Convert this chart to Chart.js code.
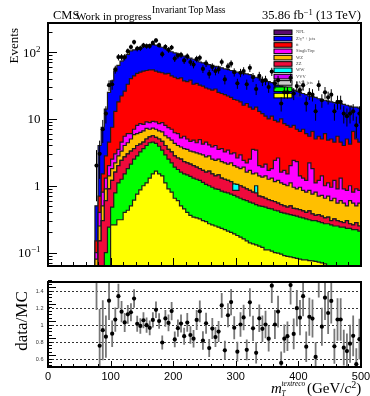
<!DOCTYPE html>
<html>
<head>
<meta charset="utf-8">
<title>Invariant Top Mass</title>
<script src="https://cdn.jsdelivr.net/npm/chart.js@4.4.1/dist/chart.umd.min.js"></script>
<style>
    body { margin: 0; background: #fff; }
    #wrap { position: relative; width: 370px; height: 396px; overflow: hidden; }
    #wrap canvas, #wrap svg { position: absolute; left: 0; }
    #topChart { top: 0; }
    #ratioChart { top: 270px; }
    #labels { top: 0; pointer-events: none; }
</style>
</head>
<body>
<div id="wrap">
    <canvas id="topChart" width="370" height="270"></canvas>
    <canvas id="ratioChart" width="370" height="126"></canvas>
    <svg id="labels" width="370" height="396" font-family="'Liberation Serif', serif">
        <text x="53" y="19" font-size="12.5">CMS</text>
        <text x="76" y="20" font-size="11">Work in progress</text>
        <text x="152" y="13" font-size="9.5">Invariant Top Mass</text>
        <text x="361" y="19" font-size="12.5" text-anchor="end">35.86 fb<tspan dy="-4.5" font-size="8.5">−1</tspan><tspan dy="4.5"> (13 TeV)</tspan></text>
        <text transform="translate(18,28) rotate(-90)" text-anchor="end" font-size="13">Events</text>
        <text transform="translate(27,321) rotate(-90)" text-anchor="middle" font-size="17">data/MC</text>
        <text x="271" y="393" font-size="15" font-style="italic">m</text>
        <text x="281.5" y="386" font-size="7.5" font-style="italic">textreco</text>
        <text x="281.5" y="395.5" font-size="7.5" font-style="italic">T</text>
        <text x="307" y="393" font-size="15">(GeV/<tspan font-style="italic">c</tspan><tspan dy="-5.5" font-size="10">2</tspan><tspan dy="5.5">)</tspan></text>
    </svg>
</div>
<script>
// 5 GeV bins, lower edges 75 ... 495
var binLow = [];
for (var e = 75; e < 500; e += 5) binLow.push(e);

var dataCounts = [2, 3, 7, 12, 32, 33, 55, 84, 84, 84,
    103, 119, 141, 113, 114, 126, 123, 123, 137, 149,
    127, 93, 120, 108, 117, 80, 89, 91, 75, 86,
    71, 65, 79, 82, 56, 68, 47, 60, 52, 55,
    71, 39, 61, 67, 50, 34, 49, 52, 33, 58,
    42, 28, 44, 37, 38, 30, 51, 34, 38, 17,
    25, 25, 41, 24, 31, 27, 32, 17, 24, 23,
    13, 32, 19, 25, 21, 23, 13, 18, 18, 12,
    11, 12, 13, 8, 12];

// top edge of each band of the stack, top = full MC
var stackTotal = [0.5, 4, 7.5, 14, 25, 37, 52, 63, 73, 82,
    92, 104, 108, 112, 116, 120, 124, 128, 130, 127,
    122, 118, 112, 106, 101, 97, 93, 90, 87, 84,
    81, 78, 75, 71, 69, 67, 65, 63, 61, 60,
    58, 56, 55, 53, 52, 50, 49, 48, 47, 46,
    44, 42, 41, 39, 38, 36, 35, 34, 33, 31,
    30, 29, 28, 27, 26, 25, 24, 23, 22, 21.5,
    21, 20, 19.5, 19, 18.5, 18, 17.5, 17, 17, 16.5,
    16, 15.5, 15, 15, 14.5];
var topTT = [0.15, 0.7, 1.5, 2.8, 4.5, 7.5, 13, 18, 22, 26,
    33, 40, 44, 48, 50, 52, 53, 54, 54, 52,
    50, 49, 47, 48, 44, 42, 40, 41, 37, 36,
    38, 33, 34, 32, 31, 29, 28, 27, 28, 25,
    24, 23, 22, 21, 19.5, 19, 18, 16, 17, 15,
    14, 15, 13, 12, 11, 10, 11, 9.5, 9, 10,
    8.5, 8, 7.5, 8, 7, 6.5, 7, 6, 5.5, 6.5,
    5, 5.5, 5, 6, 4.8, 5, 4.5, 5.5, 4.5, 4,
    5, 4.2, 6.5, 5, 4.5];
var topSingleTop = [0.1, 0.4, 0.8, 1.3, 2, 2.5, 3, 3.5, 4.5, 5.5,
    6, 6, 7, 8, 8.5, 8.3, 9, 8.8, 9.2, 9,
    8.5, 8.8, 8, 7.4, 7, 6.2, 6, 5.2, 5.5, 5,
    4.6, 4.8, 4.4, 4.9, 4.2, 4.5, 4.1, 3.8, 4, 3.5,
    3.6, 3.2, 3.4, 3.0, 3.1, 2.6, 2.9, 2.4, 2.2, 2.5,
    3.5, 3.4, 2.0, 1.9, 2.1, 1.7, 1.8, 2.4, 2.6, 1.6,
    1.7, 1.5, 2.0, 2.4, 2.3, 1.4, 1.3, 1.2, 2.2, 1.8,
    1.1, 1.2, 1.4, 1.0, 1.1, 0.95, 1.2, 0.9, 1.3, 0.9,
    0.85, 1.0, 0.8, 0.9, 0.85];
var topWZ = [0.08, 0.25, 0.5, 0.9, 1.4, 1.8, 2.2, 2.8, 3.3, 4.0,
    4.4, 5.0, 5.8, 6.0, 6.3, 6.6, 7.2, 7.0, 7.3, 7.0,
    6.6, 6.4, 5.6, 5.2, 4.8, 4.3, 4.0, 3.8, 3.6, 3.5,
    3.3, 3.2, 3.1, 3.0, 2.9, 2.7, 2.8, 2.5, 2.4, 2.5,
    2.3, 2.2, 2.1, 2.2, 2.0, 1.9, 1.8, 1.9, 1.6, 1.7,
    1.5, 1.55, 1.4, 1.35, 1.4, 1.25, 1.3, 1.15, 1.2, 1.1,
    1.05, 1.0, 1.1, 0.95, 0.9, 0.95, 0.85, 0.8, 0.85, 0.75,
    0.8, 0.7, 0.72, 0.65, 0.7, 0.6, 0.65, 0.55, 0.6, 0.55,
    0.5, 0.6, 0.55, 0.5, 0.55];
var topZZ = [0.06, 0.15, 0.3, 0.6, 0.9, 1.2, 1.6, 2.0, 2.4, 2.7,
    3.0, 3.3, 3.6, 4.0, 4.2, 4.5, 5.0, 5.4, 5.6, 5.3,
    5.0, 4.6, 4.0, 3.5, 3.2, 2.8, 2.6, 2.5, 2.3, 2.2,
    2.1, 2.0, 1.9, 1.8, 1.7, 1.6, 1.65, 1.5, 1.4, 1.45,
    1.3, 1.25, 1.2, 1.15, 0.85, 0.85, 1.0, 0.95, 0.9, 0.85,
    0.8, 0.78, 0.7, 0.68, 0.65, 0.62, 0.6, 0.58, 0.55, 0.52,
    0.5, 0.48, 0.5, 0.46, 0.45, 0.44, 0.42, 0.4, 0.42, 0.38,
    0.36, 0.37, 0.35, 0.33, 0.34, 0.3, 0.32, 0.3, 0.29, 0.28,
    0.3, 0.27, 0.26, 0.28, 0.25];
// WW only shows up in a few bins, on top of ZZ
var wwBins = [295, 300, 330];
var wwExtra = [0.22, 0.2, 0.22];
var topTWZ = [0, 0.03, 0.05, 0.1, 0.24, 0.48, 0.78, 1.1, 1.25, 1.5,
    1.8, 2.1, 2.5, 2.8, 3.2, 3.6, 4.0, 4.4, 4.5, 4.3,
    3.9, 3.4, 2.9, 2.5, 2.2, 1.9, 1.75, 1.6, 1.5, 1.45,
    1.38, 1.3, 1.25, 1.2, 1.12, 1.05, 1.0, 0.95, 0.9, 0.88,
    0.83, 0.8, 0.78, 0.75, 0.72, 0.68, 0.65, 0.62, 0.6, 0.57,
    0.55, 0.52, 0.5, 0.49, 0.48, 0.46, 0.45, 0.43, 0.42, 0.4,
    0.39, 0.38, 0.37, 0.36, 0.35, 0.34, 0.33, 0.32, 0.31, 0.3,
    0.3, 0.29, 0.28, 0.27, 0.27, 0.26, 0.25, 0.25, 0.24, 0.24,
    0.23, 0.23, 0.22, 0.22, 0.21];
var topTZq = [0, 0, 0, 0, 0, 0.26, 0.26, 0.31, 0.31, 0.4,
    0.43, 0.5, 0.61, 0.75, 0.87, 1.0, 1.1, 1.3, 1.5, 1.65,
    1.5, 1.4, 1.1, 0.9, 0.8, 0.65, 0.6, 0.5, 0.45, 0.4,
    0.36, 0.34, 0.33, 0.32, 0.3, 0.29, 0.27, 0.26, 0.25, 0.24,
    0.23, 0.22, 0.21, 0.2, 0.19, 0.18, 0.17, 0.16, 0.15, 0.14,
    0.135, 0.13, 0.125, 0.12, 0.11, 0.11, 0.105, 0.1, 0.098, 0.095,
    0.09, 0.088, 0.086, 0.084, 0.082, 0.08, 0.078, 0.078, 0.076, 0.075,
    0.074, 0.072, 0.07, 0.068, 0, 0, 0, 0, 0, 0,
    0, 0, 0, 0, 0];

var legendItems = [
    ['NPL', '#5a0a6e'], ['Z/\u03b3* + jets', '#0000ff'], ['t\u0074\u0304', '#ff0000'],
    ['SingleTop', '#ff00ff'], ['WZ', '#ffbf00'], ['ZZ', '#ee0a3c'], ['WW', '#00ffff'],
    ['VVV', '#cc00ff'], ['t\u0074\u0304V + jets', '#cccccc'], ['tWZ', '#00ff00'], ['tZq', '#ffff00']
];
var xTickLabels = [0, 100, 200, 300, 400, 500];
var ratioTickLabels = [0.6, 0.8, 1, 1.2, 1.4];

var topWW = topZZ.map(function (v, i) {
    var k = wwBins.indexOf(binLow[i]);
    return k >= 0 ? v + wwExtra[k] : v;
});

// empty bins sit below the log axis
function histPoints(vals) {
    var pts = [{x: binLow[0], y: 1e-3}];
    vals.forEach(function (v, i) {
        pts.push({x: binLow[i], y: v > 0 ? v : 1e-3});
    });
    pts.push({x: 500, y: vals[vals.length - 1] || 1e-3});
    return pts;
}

function band(vals, color, order) {
    return {
        data: histPoints(vals),
        stepped: true,
        fill: 'start',
        backgroundColor: color,
        borderColor: '#1c1c1c',
        borderWidth: 1.2,
        pointRadius: 0,
        order: order
    };
}

var dataPts = dataCounts.map(function (n, i) {
    return {x: binLow[i] + 2.5, y: n};
});
var ratioPts = dataCounts.map(function (n, i) {
    return {x: binLow[i] + 2.5, y: n / stackTotal[i]};
});

function clipTo(ctx, a) {
    ctx.beginPath();
    ctx.rect(a.left, a.top, a.right - a.left, a.bottom - a.top);
    ctx.clip();
}

function drawLegend(ctx) {
    ctx.save();
    legendItems.forEach(function (it, i) {
        var cy = 32.3 + i * 6.33;
        ctx.fillStyle = it[1];
        ctx.fillRect(274, cy - 2.3, 18, 4.6);
        ctx.strokeStyle = '#000';
        ctx.lineWidth = 1;
        ctx.strokeRect(274, cy - 2.3, 18, 4.6);
        ctx.fillStyle = '#444';
        ctx.font = '4.5px "Liberation Serif"';
        ctx.textBaseline = 'middle';
        ctx.fillText(it[0], 296, cy);
    });
    ctx.restore();
}

function xTicks(chart, major, minor) {
    var ctx = chart.ctx, a = chart.chartArea, x = chart.scales.x;
    ctx.beginPath();
    for (var m = 0; m <= 500; m += 20) {
        var px = Math.round(x.getPixelForValue(m)) + 0.5;
        ctx.moveTo(px, a.bottom);
        ctx.lineTo(px, a.bottom - (m % 100 === 0 ? major : minor));
    }
    ctx.stroke();
}

var topDecor = {
    id: 'topDecor',
    afterDatasetDraw: function (chart, args) {
        if (args.index === 1) drawLegend(chart.ctx);
    },
    beforeDatasetDraw: function (chart, args) {
        if (args.index !== 0) return;
        var ctx = chart.ctx, x = chart.scales.x, y = chart.scales.y;
        ctx.save();
        clipTo(ctx, chart.chartArea);
        ctx.strokeStyle = '#000';
        ctx.lineWidth = 1;
        ctx.beginPath();
        dataPts.forEach(function (p) {
            var err = Math.sqrt(p.y);
            var px = x.getPixelForValue(p.x);
            ctx.moveTo(px, y.getPixelForValue(p.y + err));
            ctx.lineTo(px, y.getPixelForValue(Math.max(p.y - err, 1e-3)));
        });
        ctx.stroke();
        ctx.restore();
    },
    afterDraw: function (chart) {
        var ctx = chart.ctx, a = chart.chartArea, y = chart.scales.y;
        ctx.save();
        ctx.strokeStyle = '#000';
        ctx.lineWidth = 1;
        xTicks(chart, 8, 4);
        ctx.beginPath();
        for (var d = -2; d <= 2; d++) {
            for (var k = 1; k <= 9; k++) {
                var v = k * Math.pow(10, d);
                if (v < y.min || v > y.max) continue;
                var py = Math.round(y.getPixelForValue(v)) + 0.5;
                ctx.moveTo(a.left, py);
                ctx.lineTo(a.left + (k === 1 ? 9 : 4.5), py);
            }
        }
        ctx.stroke();
        ctx.lineWidth = 2;
        ctx.strokeRect(a.left, a.top, a.right - a.left, a.bottom - a.top);
        ctx.restore();
    }
};

var ratioDecor = {
    id: 'ratioDecor',
    beforeDatasetsDraw: function (chart) {
        var ctx = chart.ctx, a = chart.chartArea, x = chart.scales.x, y = chart.scales.y;
        ctx.save();
        ctx.strokeStyle = '#333';
        ctx.lineWidth = 1;
        ctx.setLineDash([2, 2]);
        ctx.beginPath();
        ratioTickLabels.forEach(function (v) {
            var py = Math.round(y.getPixelForValue(v)) + 0.5;
            ctx.moveTo(a.left, py);
            ctx.lineTo(a.right, py);
        });
        ctx.stroke();
        ctx.setLineDash([]);
        clipTo(ctx, a);
        ctx.strokeStyle = '#777';
        ctx.lineWidth = 1.8;
        ctx.beginPath();
        ratioPts.forEach(function (p, i) {
            var err = Math.sqrt(dataCounts[i]) / stackTotal[i];
            var px = x.getPixelForValue(p.x);
            ctx.moveTo(px, y.getPixelForValue(p.y + err));
            ctx.lineTo(px, y.getPixelForValue(p.y - err));
        });
        ctx.stroke();
        ctx.restore();
    },
    afterDraw: function (chart) {
        var ctx = chart.ctx, a = chart.chartArea, y = chart.scales.y;
        ctx.save();
        ctx.strokeStyle = '#000';
        ctx.lineWidth = 1;
        xTicks(chart, 6, 3);
        ctx.beginPath();
        for (var i = 0; i <= 25; i++) {
            var v = 0.52 + i * 0.04;
            var py = Math.round(y.getPixelForValue(v)) + 0.5;
            ctx.moveTo(a.left, py);
            ctx.lineTo(a.left + ((i + 2) % 5 === 0 ? 8 : 4), py);
        }
        ctx.stroke();
        ctx.lineWidth = 2;
        ctx.strokeRect(a.left, a.top, a.right - a.left, a.bottom - a.top);
        ctx.restore();
    }
};

var topChart = new Chart(document.getElementById('topChart'), {
    type: 'line',
    data: {
        datasets: [
            {data: dataPts, showLine: false, pointRadius: 2.1, pointBorderWidth: 0,
                pointBackgroundColor: '#000', order: 0},
            band(topTZq, '#ffff00', 1),
            band(topTWZ, '#00ff00', 2),
            band(topZZ, '#ee0a3c', 3),
            band(topWW, '#00ffff', 4),
            band(topWZ, '#ffbf00', 5),
            band(topSingleTop, '#ff00ff', 6),
            band(topTT, '#ff0000', 7),
            band(stackTotal, '#0000ff', 8)
        ]
    },
    options: {
        responsive: false,
        animation: false,
        layout: {padding: {left: 48, right: 9, top: 23, bottom: 4}},
        plugins: {legend: {display: false}, tooltip: {enabled: false}},
        scales: {
            x: {type: 'linear', min: 0, max: 500, display: false},
            y: {type: 'logarithmic', min: 0.063, max: 272, display: false}
        }
    },
    plugins: [topDecor]
});

var ratioChart = new Chart(document.getElementById('ratioChart'), {
    type: 'line',
    data: {
        datasets: [
            {data: ratioPts, showLine: false, pointRadius: 2.1, pointBorderWidth: 0,
                pointBackgroundColor: '#000'}
        ]
    },
    options: {
        responsive: false,
        animation: false,
        layout: {padding: {left: 48, right: 9, top: 12, bottom: 29}},
        plugins: {legend: {display: false}, tooltip: {enabled: false}},
        scales: {
            x: {type: 'linear', min: 0, max: 500, display: false},
            y: {type: 'linear', min: 0.5, max: 1.5, display: false}
        }
    },
    plugins: [ratioDecor]
});

// tick labels as svg text, placed with the chart scales
var svg = document.getElementById('labels');
var out = '';
var ty = topChart.scales.y;
[[0.1, '10', '\u22121'], [1, '1', ''], [10, '10', ''], [100, '10', '2']].forEach(function (t) {
    var py = ty.getPixelForValue(t[0]) + 4.5;
    out += '<text x="40.5" y="' + py + '" font-size="13" text-anchor="end">' + t[1] +
        (t[2] ? '<tspan dy="-5" font-size="9">' + t[2] + '</tspan>' : '') + '</text>';
});
var rx = ratioChart.scales.x, ry = ratioChart.scales.y;
xTickLabels.forEach(function (v) {
    out += '<text x="' + rx.getPixelForValue(v) + '" y="379.5" font-size="11" text-anchor="middle"' +
        ' font-family="Liberation Sans, sans-serif">' + v + '</text>';
});
ratioTickLabels.forEach(function (v) {
    out += '<text x="43.5" y="' + (270 + ry.getPixelForValue(v) + 2) + '" font-size="5.5" text-anchor="end"' +
        ' font-family="Liberation Sans, sans-serif" fill="#333">' + v + '</text>';
});
svg.insertAdjacentHTML('beforeend', out);
</script>
</body>
</html>
